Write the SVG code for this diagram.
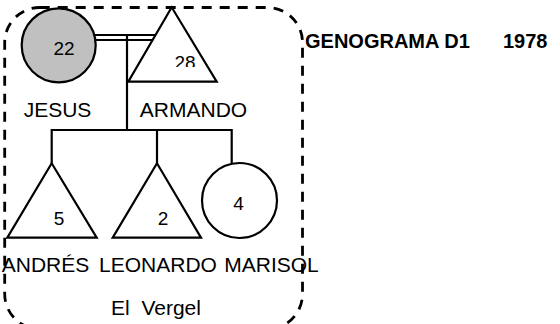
<svg xmlns="http://www.w3.org/2000/svg" width="560" height="324" viewBox="0 0 560 324">
<style>
.ln{fill:none;stroke:#000;stroke-width:2.2}
.sh{fill:#fff;stroke:#000;stroke-width:2.2}
.lbl{font-family:"Liberation Sans",Arial,sans-serif;font-size:21px;fill:#000;text-anchor:middle}
.num{font-family:"Liberation Sans",Arial,sans-serif;font-size:19px;fill:#000;text-anchor:middle}
.ttl{font-family:"Liberation Sans",Arial,sans-serif;font-size:20px;font-weight:bold;fill:#000}
.border{fill:none;stroke:#000;stroke-width:2.8;stroke-dasharray:10 8}
</style>
<defs>
<clipPath id="clip28"><rect x="160" y="40" width="50" height="27"/></clipPath>
</defs>
<rect width="560" height="324" fill="#fff"/>
<g id="connectors">
<line class="ln" x1="95" y1="35" x2="155" y2="35"/>
<line class="ln" x1="95" y1="40" x2="157" y2="40"/>
<line class="ln" x1="127" y1="35" x2="127" y2="130"/>
<line class="ln" x1="51.7" y1="130" x2="231.7" y2="130"/>
<line class="ln" x1="51.7" y1="129" x2="51.7" y2="163.5"/>
<line class="ln" x1="157" y1="129" x2="157" y2="163.5"/>
<line class="ln" x1="231.7" y1="129" x2="231.7" y2="163.5"/>
</g>
<g id="jesus">
<circle cx="58.7" cy="45.3" r="37" fill="#c0c0c0" stroke="#000" stroke-width="2.2"/>
<text class="num" x="64" y="55">22</text>
<text class="lbl" x="57.5" y="116.7">JESUS</text>
</g>
<g id="armando">
<polygon class="sh" points="171.7,7.3 128.3,81.7 216.7,81.7"/>
<text class="num" x="185" y="69" clip-path="url(#clip28)">28</text>
<text class="lbl" x="193.5" y="116.7">ARMANDO</text>
</g>
<g id="andres">
<polygon class="sh" points="51.7,163.3 7.3,237.7 96.7,237.7"/>
<text class="num" x="59" y="225">5</text>
<text class="lbl" x="45.5" y="271.7">ANDRÉS</text>
</g>
<g id="leonardo">
<polygon class="sh" points="157,163.3 112.7,237.7 201,237.7"/>
<text class="num" x="163" y="225">2</text>
<text class="lbl" x="158" y="271.7">LEONARDO</text>
</g>
<g id="marisol">
<circle class="sh" cx="239.5" cy="200.5" r="37.5"/>
<text class="num" x="238.5" y="210">4</text>
<text class="lbl" x="271.5" y="271.7">MARISOL</text>
</g>
<g id="household">
<rect class="border" x="4.7" y="7.5" width="297.8" height="321.5" rx="35" ry="35"/>
<text class="lbl" x="156" y="315" xml:space="preserve">El  Vergel</text>
</g>
<g id="title">
<text class="ttl" x="305" y="47.5">GENOGRAMA D1</text>
<text class="ttl" x="503" y="47.5">1978</text>
</g>
</svg>
